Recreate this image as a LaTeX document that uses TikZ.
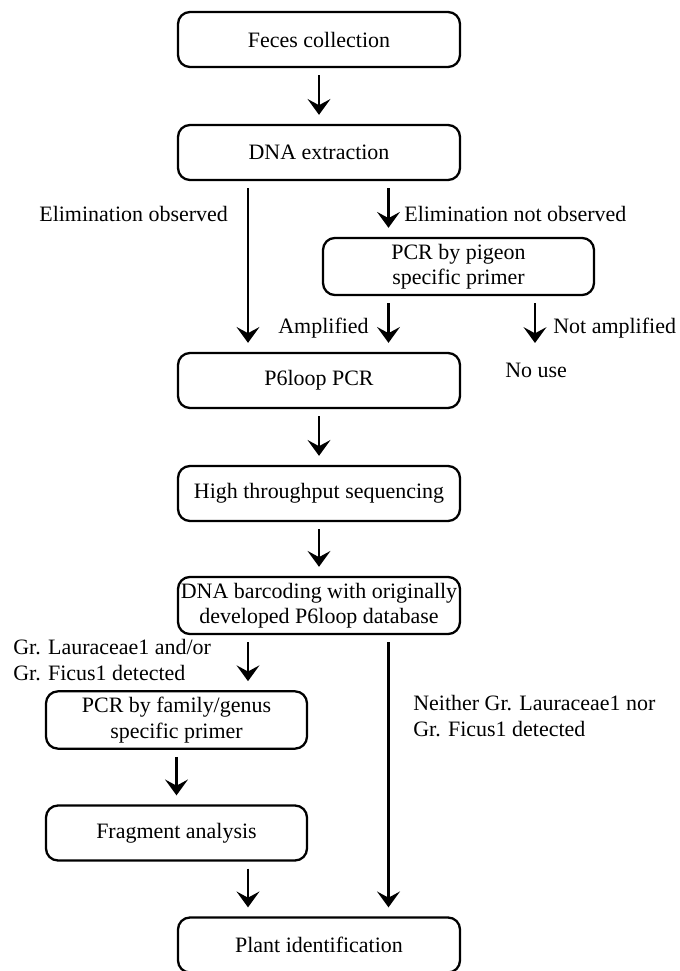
\documentclass[tikz,border=0pt]{standalone}
\usepackage{fontspec}
\setmainfont{Liberation Serif}
\usetikzlibrary{arrows.meta, positioning}

\begin{document}
\begin{tikzpicture}[
        font=\fontsize{12.5}{14.5}\selectfont,
        block/.style={rectangle, draw, line width=1.3pt, rounded corners=0.24cm, minimum width=5.64cm, minimum height=1.1cm, inner xsep=0pt, align=center},
        lbl/.style={inner sep=0pt},
        arrow/.style={-{Stealth[length=9pt, width=13pt, inset=3.5pt]}, line width=1.2pt, shorten <=0.14cm, shorten >=0.18cm}
    ]
        \useasboundingbox (0,0) rectangle (13.6,19.42);

        % Main column
        \node[block] (feces) at (6.38,18.63) {Feces collection};
        \node[block] (dna) at (6.38,16.37) {DNA extraction};
        \node[block, minimum width=5.42cm] (pigeon) at (9.17,14.09) {PCR by pigeon\\specific primer};
        \node[block] (ploop) at (6.38,11.81) {P6loop PCR};
        \node[block] (hts) at (6.38,9.55) {High throughput sequencing};
        \node[block] (barcode) at (6.38,7.31) {DNA barcoding with originally\\developed P6loop database};
        \node[block, minimum width=5.22cm] (pcrfam) at (3.53,5.02) {PCR by family/genus\\specific primer};
        \node[block, minimum width=5.22cm] (frag) at (3.53,2.76) {Fragment analysis};
        \node[block] (plant) at (6.38,0.52) {Plant identification};

        % Arrow columns
        \coordinate (colL) at (4.96,0);
        \coordinate (colR) at (7.77,0);
        \coordinate (noamp) at (10.70,12.56);

        \draw[arrow] (feces) -- (dna);
        \draw[arrow] (dna.south -| colL) -- (ploop.north -| colL);
        \draw[arrow] (dna.south -| colR) -- (pigeon.north -| colR);
        \draw[arrow] (pigeon.south -| colR) -- (ploop.north -| colR);
        \draw[arrow, shorten >=0pt] (pigeon.south -| noamp) -- (noamp);
        \draw[arrow] (ploop) -- (hts);
        \draw[arrow] (hts) -- (barcode);
        \draw[arrow] (barcode.south -| colL) -- (pcrfam.north -| colL);
        \draw[arrow] (pcrfam) -- (frag);
        \draw[arrow] (frag.south -| colL) -- (plant.north -| colL);
        \draw[arrow] (barcode.south -| colR) -- (plant.north -| colR);

        % Branch labels
        \node[lbl, anchor=base west] (elimobs) at (0.78,14.98) {Elimination observed};
        \node[lbl, anchor=base west] (elimnot) at (8.08,14.98) {Elimination not observed};
        \node[lbl, anchor=base east] (amp) at (7.38,12.74) {Amplified};
        \node[lbl, anchor=base west] (notamp) at (11.06,12.74) {Not amplified};
        \node[lbl, anchor=base west] (nouse) at (10.10,11.86) {No use};
        \node[lbl, anchor=west, align=left] (grdet) at (0.26,6.22) {Gr. Lauraceae1 and/or\\Gr. Ficus1 detected};
        \node[lbl, anchor=west, align=left] (neither) at (8.26,5.10) {Neither Gr. Lauraceae1 nor\\Gr. Ficus1 detected};

    \end{tikzpicture}
\end{document}
